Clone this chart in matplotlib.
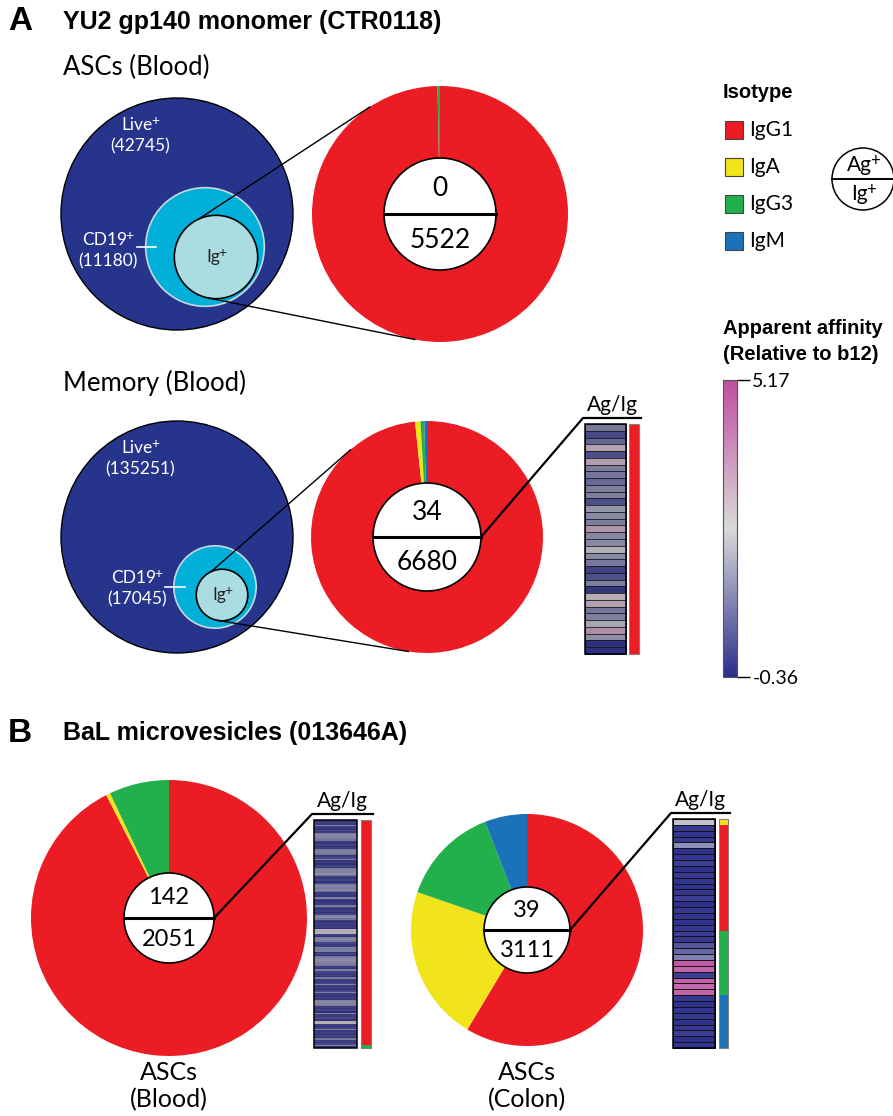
import numpy as np
import matplotlib.pyplot as plt
from matplotlib.patches import Circle, Rectangle
from matplotlib.colors import LinearSegmentedColormap, Normalize
from matplotlib.cm import ScalarMappable

W, H = 893, 1116
BODY = ['Lato', 'DejaVu Sans']
BOLD = 'Liberation Sans'

isotypes = ['IgG1', 'IgA', 'IgG3', 'IgM']
iso_colors = {'IgG1': '#ec1c24', 'IgA': '#f2e41b', 'IgG3': '#21b04b', 'IgM': '#1b72b9'}
strip_order = ['IgA', 'IgG1', 'IgG3', 'IgM']

# gating counts (Live+, CD19+, Ig+, Ag+)
asc_gate = [42745, 11180, 5522, 0]
mem_gate = [135251, 17045, 6680, 34]
bal_blood_n = [2051, 142]
bal_colon_n = [3111, 39]

# isotype split of the Ig+ cells, order IgG1, IgA, IgG3, IgM
asc_iso = [5505, 0, 17, 0]
mem_iso = [6570, 50, 35, 25]
bal_blood_iso = [1897, 10, 144, 0]
bal_colon_iso = [1823, 675, 430, 183]

# isotype split of the Ag+ cells, order IgG1, IgA, IgG3, IgM
mem_ag_iso = [34, 0, 0, 0]
bal_blood_ag_iso = [140, 0, 2, 0]
bal_colon_ag_iso = [18, 1, 11, 9]

# apparent affinity (relative to b12), one value per Ag+ clone, top to bottom
aff_min, aff_max = -0.36, 5.17
mem_aff = [1.16, 0.22, 0.77, 2.9, 0.33, 3.0, 1.3, 1.12, 0.84, 1.3,
           1.3, 0.33, 1.75, 1.46, 1.28, 3.2, 1.46, 1.46, 2.3, 1.46,
           1.16, 0.03, 0.33, 1.28, -0.2, 2.6, 2.9, 1.12, 1.3, 2.1,
           3.4, 1.6, -0.3, -0.3]
bal_blood_aff = [-0.2, 0.1, -0.1, 1.3, 0.0, -0.2, 0.2, -0.1, 1.2, 1.5,
                 1.4, 1.3, 1.1, 0.0, -0.2, 0.1, -0.3, 0.0, 1.2, 1.4,
                 1.3, 1.0, -0.1, 0.2, 1.3, -0.2, 0.0, -0.3, 0.1, -0.1,
                 1.2, 1.5, 1.4, 1.6, 1.1, 0.0, -0.2, 0.1, -0.3, 0.2,
                 1.3, 1.5, 1.2, 1.4, 1.0, -0.1, 0.0, -0.2, 1.3, 0.1,
                 -0.3, 0.0, -0.1, 1.2, 0.2, -0.2, 0.0, -0.3, 0.1, 1.3,
                 1.5, 1.1, 0.0, -0.2, 0.1, -0.1, 0.0, -0.3, 2.6, 2.9,
                 2.4, 0.0, -0.2, 1.3, 1.5, 1.2, 0.1, -0.1, 0.0, 1.4,
                 1.2, 1.3, -0.2, 0.1, -0.3, 1.2, 1.5, 1.6, 1.4, 1.3,
                 1.1, 0.0, -0.2, 1.3, 0.1, -0.1, 0.0, -0.3, 1.2, 0.0,
                 -0.2, 0.1, 1.4, -0.1, 0.0, -0.3, 0.2, 1.3, 0.0, -0.2,
                 0.1, -0.1, 1.3, 1.5, 1.4, 1.2, 0.0, -0.2, 0.1, -0.3,
                 1.4, 0.0, -0.1, 0.2, -0.2, 2.7, 2.5, 0.0, -0.3, 0.1,
                 1.3, -0.1, 0.0, -0.2, 0.1, -0.3, 1.2, 0.0, -0.1, 0.2,
                 1.3, -0.2]
bal_colon_aff = [2.0, -0.2, -0.25, -0.2, 1.2, -0.3, -0.2, -0.1, -0.3, -0.2,
                 -0.25, -0.3, -0.2, -0.1, -0.3, -0.2, -0.25, -0.3, -0.2, -0.1,
                 -0.2, 0.3, 0.6, 1.0, 4.9, 4.7, -0.1, 4.8, 4.6, 4.7,
                 -0.2, -0.3, -0.25, -0.2, -0.3, -0.2, -0.1, -0.3, -0.25]

cmap = LinearSegmentedColormap.from_list('aff', ['#2b2e8c', '#d9d9d9', '#bf4ea0'])
norm = Normalize(aff_min, aff_max)

fig = plt.figure(figsize=(W / 100, H / 100), dpi=100)
ax = fig.add_axes([0, 0, 1, 1])


def txt(x, y, s, size, **kw):
    kw.setdefault('ha', 'center')
    kw.setdefault('va', 'center')
    return ax.text(x, y, s, fontsize=size, family=BODY, **kw)


def plus(x, y, s, size, color='black', zorder=4):
    # base text with a raised "+" glued to its right edge
    t = txt(x - size * 0.25, y, s, size, color=color, zorder=zorder)
    ax.annotate('+', xy=(1.0, 1.0), xycoords=t, xytext=(-1.2, 1.5), textcoords='offset points',
                fontsize=size * 0.8, family=BODY, ha='left', va='top', color=color, zorder=zorder)


def venn(cx, cy, R, gate, cd19_c, ig_c, labels):
    live, cd19, ig, ag = gate
    ax.add_patch(Circle((cx, cy), R, fc='#27348b', ec='black', lw=1, zorder=2))
    r_cd = R * np.sqrt(cd19 / live)
    ax.add_patch(Circle(cd19_c, r_cd, fc='#00b0d8', ec='#c8d8e0', lw=1.2, zorder=2))
    r_ig = R * np.sqrt(ig / live)
    ax.add_patch(Circle(ig_c, r_ig, fc='#a9dde2', ec='black', lw=1.2, zorder=3))
    (lx, ly), (dx, dy), tick = labels
    plus(lx, ly, 'Live', 12.5, color='white')
    txt(lx, ly + 21, '(%d)' % live, 12.5, color='white')
    plus(dx, dy, 'CD19', 12.5, color='white')
    txt(dx, dy + 21, '(%d)' % cd19, 12.5, color='white')
    ax.plot(tick[0], tick[1], color='white', lw=1.2, zorder=3)
    plus(ig_c[0], ig_c[1], 'Ig', 12.5, color='#222222', zorder=4)
    return ig_c, r_ig


def tangent(px, py, cx, cy, r, side):
    dx, dy = cx - px, cy - py
    d = np.hypot(dx, dy)
    a = np.arctan2(dy, dx) + side * np.arcsin(r / d)
    t = np.sqrt(d * d - r * r)
    return px + t * np.cos(a), py + t * np.sin(a)


def donut(cx, cy, r, r_in, counts, ag, ig, size):
    ax.pie(counts, colors=[iso_colors[k] for k in isotypes], center=(cx, cy), radius=r,
           startangle=-90, counterclock=True, frame=True,
           wedgeprops=dict(linewidth=0, zorder=2))
    ax.add_patch(Circle((cx, cy), r_in, fc='white', ec='black', lw=1.2, zorder=5))
    ax.plot([cx - r_in, cx + r_in], [cy, cy], color='black', lw=2.2, zorder=6)
    txt(cx, cy - r_in * 0.45, str(ag), size, zorder=7)
    txt(cx, cy + r_in * 0.47, str(ig), size, zorder=7)


def zoom_lines(ig_c, r_ig, pc, pr):
    for ang, side in ((-115, -1), (100, 1)):
        px = ig_c[0] + r_ig * np.cos(np.radians(ang))
        py = ig_c[1] + r_ig * np.sin(np.radians(ang))
        tx, ty = tangent(px, py, pc[0], pc[1], pr, side)
        ax.plot([px, tx], [py, ty], color='black', lw=1, zorder=4)


def strip(x0, x1, top, bottom, bx0, bx1, vals, ag_iso, pie_c, r_in, edges=True, fade=1.0):
    n = len(vals)
    ye = np.linspace(top, bottom, n + 1)
    ax.add_patch(Rectangle((x0, top), x1 - x0, bottom - top, fc='#2e2e36', ec='none', zorder=2))
    ax.pcolormesh([x0, x1], ye, np.array(vals)[:, None], cmap=cmap, norm=norm, alpha=fade,
                  edgecolors='#151515' if edges else 'none', linewidth=0.7 if edges else 0, zorder=3)
    ax.add_patch(Rectangle((x0, top), x1 - x0, bottom - top, fc='none', ec='black', lw=1.1, zorder=4))
    row_h = (bottom - top) / n
    cum = top
    for k in strip_order:
        c = ag_iso[isotypes.index(k)]
        if c == 0:
            continue
        ax.bar((bx0 + bx1) / 2, c * row_h, width=bx1 - bx0, bottom=cum, color=iso_colors[k],
               edgecolor='none', zorder=3)
        cum += c * row_h
    ax.add_patch(Rectangle((bx0, top), bx1 - bx0, bottom - top, fc='none', ec='#8c7f78', lw=0.8, zorder=4))
    hy = top - 6
    ax.plot([pie_c[0] + r_in, x0 - 2, bx1 + 2], [pie_c[1], hy, hy], color='black', lw=1.6, zorder=6)
    txt((x0 + bx1) / 2, hy - 3, 'Ag/Ig', 15, va='bottom')


# ---- panel A ----
ax.text(8, 22, 'A', fontsize=24, fontweight='bold', family=BOLD, va='center')
ax.text(63, 22, 'YU2 gp140 monomer (CTR0118)', fontsize=18, fontweight='bold', family=BOLD, va='center')
txt(63, 67, 'ASCs (Blood)', 18.5, ha='left')
txt(63, 383, 'Memory (Blood)', 18.5, ha='left')

ig_c, r_ig = venn(177, 214, 116, asc_gate, (205, 247), (216, 257),
                  ((140, 125), (108, 240), ([137, 156], [247, 247])))
donut(440, 214, 128, 56, asc_iso, asc_gate[3], asc_gate[2], 19)
zoom_lines(ig_c, r_ig, (440, 214), 128)

ig_c, r_ig = venn(177, 537, 116, mem_gate, (215, 587), (222, 595),
                  ((140, 448), (137, 578), ([165, 185], [587, 587])))
donut(427, 537, 116, 54, mem_iso, mem_gate[3], mem_gate[2], 19)
zoom_lines(ig_c, r_ig, (427, 537), 116)
strip(585, 626, 424, 654, 629, 639, mem_aff, mem_ag_iso, (427, 537), 54, fade=0.8)

# ---- panel B ----
ax.text(8, 733, 'B', fontsize=24, fontweight='bold', family=BOLD, va='center')
ax.text(63, 733, 'BaL microvesicles (013646A)', fontsize=18, fontweight='bold', family=BOLD, va='center')

donut(169, 918, 138, 45, bal_blood_iso, bal_blood_n[1], bal_blood_n[0], 17)
strip(314, 357, 820, 1048, 361, 371, bal_blood_aff, bal_blood_ag_iso, (169, 918), 45,
      edges=False, fade=0.8)
donut(527, 930, 116, 43, bal_colon_iso, bal_colon_n[1], bal_colon_n[0], 17)
strip(673, 715, 819, 1048, 719, 728, bal_colon_aff, bal_colon_ag_iso, (527, 930), 43)

for x, lab in ((169, 'Blood'), (527, 'Colon')):
    txt(x, 1073, 'ASCs', 18)
    txt(x, 1100, '(%s)' % lab, 18)

# ---- isotype legend ----
ax.text(723, 93, 'Isotype', fontsize=14.5, fontweight='bold', family=BOLD, va='center')
for i, k in enumerate(isotypes):
    y = 130 + i * 37
    ax.add_patch(Rectangle((725, y - 9), 18, 18, fc=iso_colors[k], ec='#444444', lw=0.8))
    txt(749, y, k, 15, ha='left')

ax.add_patch(Circle((863, 179), 31, fc='white', ec='black', lw=1.1))
ax.plot([832, 893], [179, 179], color='black', lw=1.4)
plus(863, 165, 'Ag', 15)
plus(863, 194, 'Ig', 15)

# ---- affinity colorbar ----
ax.text(723, 328, 'Apparent affinity', fontsize=14.5, fontweight='bold', family=BOLD, va='center')
ax.text(723, 355, '(Relative to b12)', fontsize=14.5, fontweight='bold', family=BOLD, va='center')
cax = fig.add_axes([723 / W, 1 - 677 / H, 14 / W, (677 - 380) / H])
cb = fig.colorbar(ScalarMappable(norm=norm, cmap=cmap), cax=cax, ticks=[aff_min, aff_max])
cb.set_ticklabels(['-0.36', '5.17'])
cb.outline.set_edgecolor('#555555')
cax.tick_params(length=9, width=1, labelsize=14, pad=2)
for t in cax.get_yticklabels():
    t.set_family(BODY)

ax.set_xlim(0, W)
ax.set_ylim(H, 0)
ax.set_aspect('equal')
ax.axis('off')

fig.savefig('out.png', dpi=100)
